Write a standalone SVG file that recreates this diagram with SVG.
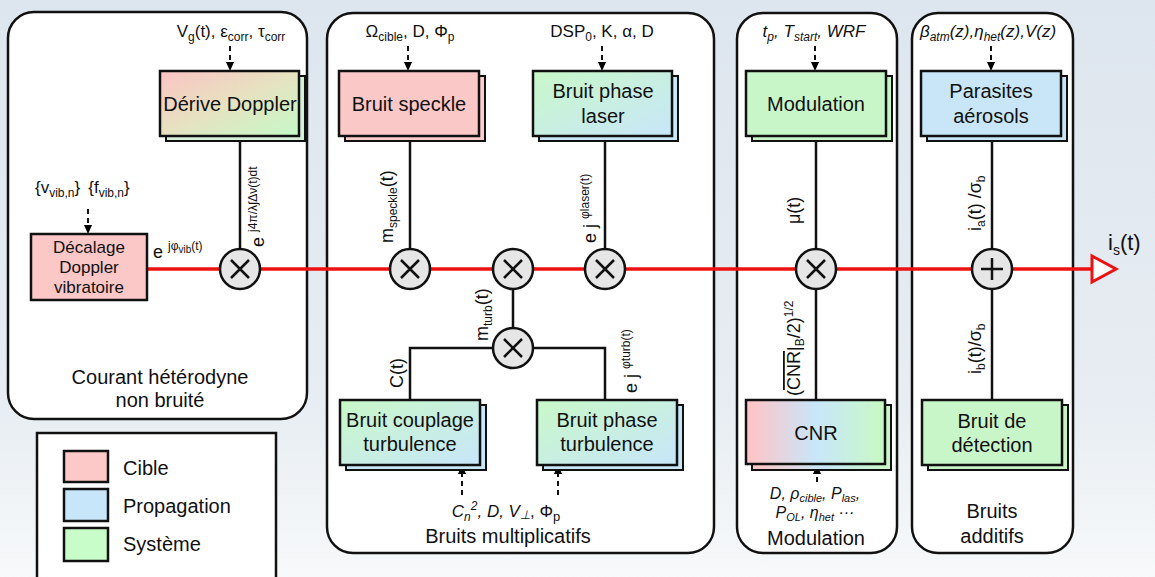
<svg xmlns="http://www.w3.org/2000/svg" width="1155" height="577" viewBox="0 0 1155 577">
<defs>
<linearGradient id="bg" x1="0" y1="0" x2="0" y2="1">
<stop offset="0" stop-color="#dde5ee"/><stop offset="0.7" stop-color="#e7edf2"/><stop offset="1" stop-color="#f7f9fa"/>
</linearGradient>
<linearGradient id="gPG" x1="0" y1="0" x2="1" y2="1">
<stop offset="0" stop-color="#fcc4c4"/><stop offset="0.5" stop-color="#e6e2c0"/><stop offset="1" stop-color="#c4fac8"/>
</linearGradient>
<linearGradient id="gGB" x1="0" y1="0" x2="1" y2="1">
<stop offset="0" stop-color="#c8f8c8"/><stop offset="1" stop-color="#c8e6fa"/>
</linearGradient>
<linearGradient id="gCNR" x1="0" y1="0" x2="1" y2="0">
<stop offset="0.05" stop-color="#fcc6c9"/><stop offset="0.5" stop-color="#c8e6fa"/><stop offset="0.95" stop-color="#c8f8c8"/>
</linearGradient>
<marker id="ah" viewBox="0 0 10 10" refX="10" refY="5" markerWidth="9" markerHeight="9" markerUnits="userSpaceOnUse" orient="auto">
<path d="M0,0.5 L10,5 L0,9.5 z" fill="#000"/>
</marker>
<style>
text{font-family:"Liberation Sans",Arial,sans-serif;fill:#111;}
.panel{fill:#fff;stroke:#111;stroke-width:2.5;}
.box{stroke:#111;stroke-width:2.5;}
.shadow{stroke:#111;stroke-width:2;}
.lbl{font-size:20px;text-anchor:middle;}
.par{font-size:17px;text-anchor:middle;}
.it{font-style:italic;}
.wire{stroke:#111;stroke-width:2.5;fill:none;}
.dash{stroke:#111;stroke-width:2;stroke-dasharray:5 4;fill:none;marker-end:url(#ah);}
.red{stroke:#ee1111;stroke-width:3.5;fill:none;}
.op{fill:#e6e6e6;stroke:#111;stroke-width:2.5;}
.sym{stroke:#111;stroke-width:2.5;}
.vt{font-size:18px;}
</style>
</defs>
<rect width="1155" height="577" fill="url(#bg)"/>

<!-- panels -->
<g id="panel-courant">
<rect class="panel" x="8" y="12" width="299" height="407" rx="26"/>
<text class="lbl" x="160" y="384">Courant hétérodyne</text>
<text class="lbl" x="160" y="407">non bruité</text>
</g>
<g id="panel-multiplicatifs">
<rect class="panel" x="327" y="13" width="387" height="540" rx="26"/>
<text class="lbl" x="508" y="543">Bruits multiplicatifs</text>
</g>
<g id="panel-modulation">
<rect class="panel" x="737" y="13" width="160" height="540" rx="26"/>
<text class="lbl" x="816" y="545">Modulation</text>
</g>
<g id="panel-additifs">
<rect class="panel" x="912" y="13" width="161" height="540" rx="26"/>
<text class="lbl" x="992" y="518">Bruits</text>
<text class="lbl" x="992" y="543">additifs</text>
</g>

<!-- legend -->
<g id="legend">
<rect x="37" y="433" width="239" height="150" fill="#fff" stroke="#111" stroke-width="2.5"/>
<rect x="64" y="451" width="44" height="31" fill="#fcc8c8" stroke="#111" stroke-width="2.5"/>
<rect x="64" y="489" width="44" height="32" fill="#c8e6fa" stroke="#111" stroke-width="2.5"/>
<rect x="64" y="528" width="44" height="33" fill="#c8fcc8" stroke="#111" stroke-width="2.5"/>
<text x="123" y="475" font-size="20">Cible</text>
<text x="123" y="513" font-size="20">Propagation</text>
<text x="123" y="551" font-size="20">Système</text>
</g>

<!-- connectors -->
<g id="connectors">
<line class="red" x1="147" y1="269" x2="1093" y2="269"/>
<polygon points="1092,256 1116,269 1092,282" fill="#fff" stroke="#ee1111" stroke-width="3"/>
<line class="wire" x1="240" y1="136" x2="240" y2="249"/>
<line class="wire" x1="410" y1="136" x2="410" y2="249"/>
<line class="wire" x1="605" y1="136" x2="605" y2="249"/>
<line class="wire" x1="513" y1="289" x2="513" y2="328"/>
<polyline class="wire" points="410,400 410,348 605,348 605,400"/>
<line class="wire" x1="816" y1="136" x2="816" y2="249"/>
<line class="wire" x1="816" y1="289" x2="816" y2="400"/>
<line class="wire" x1="992" y1="136" x2="992" y2="249"/>
<line class="wire" x1="992" y1="289" x2="992" y2="400"/>
<line class="dash" x1="88" y1="209" x2="88" y2="234"/>
<line class="dash" x1="230" y1="46" x2="230" y2="71"/>
<line class="dash" x1="408" y1="46" x2="408" y2="71"/>
<line class="dash" x1="602" y1="46" x2="602" y2="71"/>
<line class="dash" x1="815" y1="46" x2="815" y2="71"/>
<line class="dash" x1="991" y1="46" x2="991" y2="71"/>
<line class="dash" x1="462" y1="495" x2="462" y2="465"/>
<line class="dash" x1="558" y1="495" x2="558" y2="465"/>
<line class="dash" x1="817" y1="482" x2="817" y2="465"/>
</g>

<!-- operators -->
<g id="op-derive"><circle class="op" cx="240" cy="269" r="20"/><path class="sym" d="M231,260 L249,278 M249,260 L231,278"/></g>
<g id="op-speckle"><circle class="op" cx="410" cy="269" r="20"/><path class="sym" d="M401,260 L419,278 M419,260 L401,278"/></g>
<g id="op-turb"><circle class="op" cx="513" cy="269" r="20"/><path class="sym" d="M504,260 L522,278 M522,260 L504,278"/></g>
<g id="op-laser"><circle class="op" cx="605" cy="269" r="20"/><path class="sym" d="M596,260 L614,278 M614,260 L596,278"/></g>
<g id="op-mturb"><circle class="op" cx="513" cy="348" r="20"/><path class="sym" d="M504,339 L522,357 M522,339 L504,357"/></g>
<g id="op-modulation"><circle class="op" cx="816" cy="269" r="20"/><path class="sym" d="M807,260 L825,278 M825,260 L807,278"/></g>
<g id="op-sum"><circle class="op" cx="992" cy="269" r="20"/><path class="sym" d="M992,258 L992,280 M981,269 L1003,269"/></g>

<!-- nodes -->
<g id="node-decalage">
<rect class="box" x="31" y="234" width="116" height="66" fill="#fbc7c7"/>
<text x="89" y="253" font-size="17" text-anchor="middle">Décalage</text>
<text x="89" y="273" font-size="17" text-anchor="middle">Doppler</text>
<text x="89" y="293" font-size="17" text-anchor="middle">vibratoire</text>
</g>
<g id="node-derive">
<rect class="shadow" x="166" y="76" width="139" height="65" fill="#d4f0d8"/>
<rect class="box" x="160" y="71" width="139" height="65" fill="url(#gPG)"/>
<text class="lbl" x="230" y="111">Dérive Doppler</text>
</g>
<g id="node-speckle">
<rect class="shadow" x="345" y="76" width="140" height="65" fill="#fbcccc"/>
<rect class="box" x="339" y="71" width="140" height="65" fill="#fbc8c8"/>
<text class="lbl" x="409" y="111">Bruit speckle</text>
</g>
<g id="node-laser">
<rect class="shadow" x="539" y="76" width="139" height="65" fill="#c8e6f6"/>
<rect class="box" x="533" y="71" width="139" height="65" fill="url(#gGB)"/>
<text class="lbl" x="603" y="98">Bruit phase</text>
<text class="lbl" x="603" y="123">laser</text>
</g>
<g id="node-couplage">
<rect class="shadow" x="346" y="405" width="140" height="65" fill="#c8e6f6"/>
<rect class="box" x="340" y="400" width="140" height="65" fill="url(#gGB)"/>
<text class="lbl" x="410" y="427">Bruit couplage</text>
<text class="lbl" x="410" y="451">turbulence</text>
</g>
<g id="node-phaseturb">
<rect class="shadow" x="543" y="405" width="140" height="65" fill="#c8e6f6"/>
<rect class="box" x="537" y="400" width="140" height="65" fill="url(#gGB)"/>
<text class="lbl" x="607" y="427">Bruit phase</text>
<text class="lbl" x="607" y="451">turbulence</text>
</g>
<g id="node-modulation">
<rect class="shadow" x="752" y="76" width="140" height="65" fill="#c8f4c8"/>
<rect class="box" x="746" y="71" width="140" height="65" fill="#c9f6c9"/>
<text class="lbl" x="816" y="111">Modulation</text>
</g>
<g id="node-parasites">
<rect class="shadow" x="927" y="76" width="140" height="65" fill="#c8e4f6"/>
<rect class="box" x="921" y="71" width="140" height="65" fill="#c8e6f8"/>
<text class="lbl" x="991" y="98">Parasites</text>
<text class="lbl" x="991" y="123">aérosols</text>
</g>
<g id="node-cnr">
<rect class="shadow" x="752" y="405" width="139" height="65" fill="url(#gCNR)"/>
<rect class="box" x="746" y="400" width="139" height="64" fill="url(#gCNR)"/>
<text class="lbl" x="816" y="440">CNR</text>
</g>
<g id="node-detection">
<rect class="shadow" x="928" y="405" width="140" height="65" fill="#c8f4c8"/>
<rect class="box" x="922" y="400" width="140" height="65" fill="#c9f6c9"/>
<text class="lbl" x="992" y="428">Bruit de</text>
<text class="lbl" x="992" y="452">détection</text>
</g>

<!-- parameter labels -->
<g id="labels">
<text class="par" x="231" y="37">V<tspan font-size="12" dy="4">g</tspan><tspan dy="-4">(t), ε</tspan><tspan font-size="12" dy="4">corr</tspan><tspan dy="-4">, τ</tspan><tspan font-size="12" dy="4">corr</tspan></text>
<text class="par" x="410" y="37">Ω<tspan font-size="12" dy="4">cible</tspan><tspan dy="-4">, D, Φ</tspan><tspan font-size="12" dy="4">p</tspan></text>
<text class="par" x="602" y="37">DSP<tspan font-size="12" dy="4">0</tspan><tspan dy="-4">, K, α, D</tspan></text>
<text class="par it" x="814" y="37">t<tspan font-size="12" dy="4">p</tspan><tspan dy="-4">, T</tspan><tspan font-size="12" dy="4">start</tspan><tspan dy="-4">, WRF</tspan></text>
<text class="par it" x="988" y="37">β<tspan font-size="12" dy="4">atm</tspan><tspan dy="-4">(z),η</tspan><tspan font-size="12" dy="4">het</tspan><tspan dy="-4">(z),V(z)</tspan></text>
<text x="35" y="193" font-size="17">{v<tspan font-size="12" dy="4">vib,n</tspan><tspan dy="-4">}</tspan><tspan dx="8">{f</tspan><tspan font-size="12" dy="4">vib,n</tspan><tspan dy="-4">}</tspan></text>
<text x="153" y="258" font-size="18">e <tspan font-size="12" dy="-8">jφ</tspan><tspan font-size="10" dy="3">vib</tspan><tspan font-size="12" dy="-3">(t)</tspan></text>
<text class="par it" x="506" y="517">C<tspan font-size="12" dy="4">n</tspan><tspan font-size="12" dy="-11">2</tspan><tspan dy="7">, D, V</tspan><tspan font-size="12" dy="2">⊥</tspan><tspan dy="-2" font-style="normal">, Φ</tspan><tspan font-size="13" dy="4" font-style="normal">p</tspan></text>
<text class="it" x="815" y="499" font-size="16" text-anchor="middle">D, ρ<tspan font-size="11" dy="3">cible</tspan><tspan dy="-3">, P</tspan><tspan font-size="11" dy="3">las</tspan><tspan dy="-3">,</tspan></text>
<text class="it" x="815" y="518" font-size="16" text-anchor="middle">P<tspan font-size="11" dy="3">OL</tspan><tspan dy="-3">, η</tspan><tspan font-size="11" dy="3">het</tspan><tspan dy="-3"> ···</tspan></text>
<text x="1108" y="250" font-size="22">i<tspan font-size="14" dy="5">s</tspan><tspan dy="-5">(t)</tspan></text>

<text class="vt" transform="translate(264,247) rotate(-90)">e <tspan font-size="12" dy="-7">j4π/λ∫Δν(t)dt</tspan></text>
<text class="vt" transform="translate(393,243) rotate(-90)">m<tspan font-size="12" dy="4">speckle</tspan><tspan dy="-4">(t)</tspan></text>
<text class="vt" transform="translate(596,243) rotate(-90)">e j <tspan font-size="12" dy="-7">φlaser(t)</tspan></text>
<text class="vt" transform="translate(488,341) rotate(-90)">m<tspan font-size="12" dy="4">turb</tspan><tspan dy="-4">(t)</tspan></text>
<text class="vt" transform="translate(403,388) rotate(-90)">C(t)</text>
<text class="vt" transform="translate(637,393) rotate(-90)">e j <tspan font-size="12" dy="-7">φturb(t)</tspan></text>
<text class="vt" transform="translate(800,224) rotate(-90)">μ(t)</text>
<text class="vt" transform="translate(800,396) rotate(-90)">(<tspan text-decoration="overline">CNR</tspan>|<tspan font-size="12" dy="4">B</tspan><tspan dy="-4">/2)</tspan><tspan font-size="12" dy="-7">1/2</tspan></text>
<text class="vt" transform="translate(981,231) rotate(-90)">i<tspan font-size="12" dy="4">a</tspan><tspan dy="-4">(t) /σ</tspan><tspan font-size="12" dy="4">b</tspan></text>
<text class="vt" transform="translate(981,374) rotate(-90)">i<tspan font-size="12" dy="4">b</tspan><tspan dy="-4">(t)/σ</tspan><tspan font-size="12" dy="4">b</tspan></text>
</g>
</svg>
